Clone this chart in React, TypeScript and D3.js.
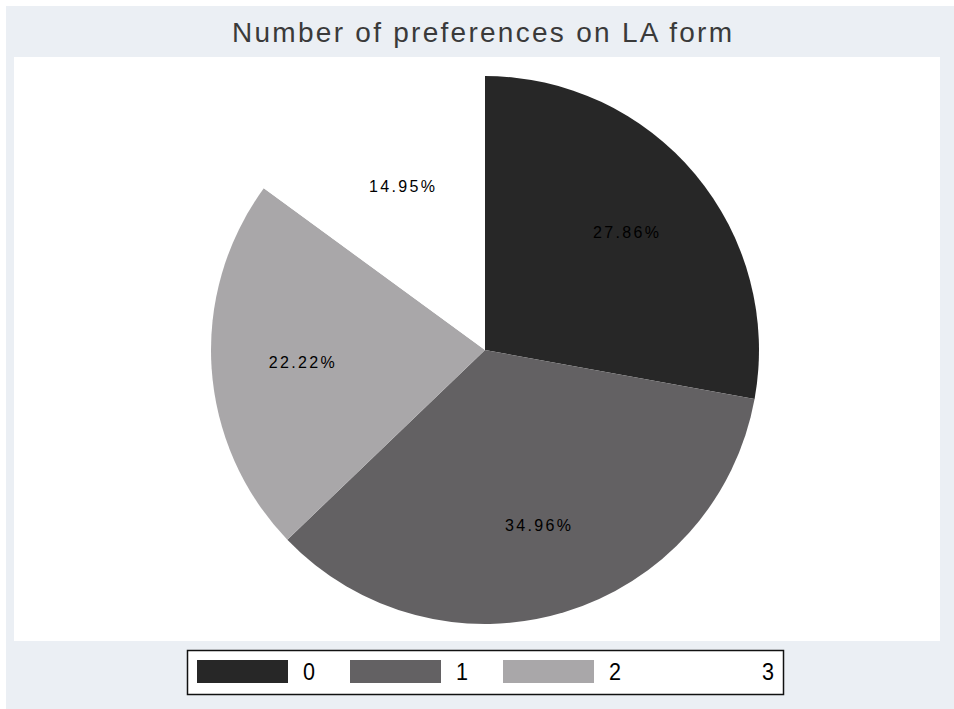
import * as d3 from "d3";

const categories = ["0", "1", "2", "3"];
const shares = [27.86, 34.96, 22.22, 14.95];
const sliceColors = ["#272727", "#636163", "#a9a7a9", "#ffffff"];

const W = 954;
const H = 709;
const FONT = "Liberation Sans, Arial, sans-serif";

export default function App() {
  const cx = 485;
  const cy = 350;
  const r = 274;

  const pie = d3
    .pie<number>()
    .sort(null)
    .value((d) => d);
  const arcs = pie(shares);
  const arc = d3.arc<d3.PieArcDatum<number>>().innerRadius(0).outerRadius(r);
  const labelArc = d3
    .arc<d3.PieArcDatum<number>>()
    .innerRadius(r * 0.67)
    .outerRadius(r * 0.67);

  // legend keys, evenly spaced
  const legendX = d3.scalePoint<string>().domain(categories).range([197, 656]);

  return (
    <svg
      width={W}
      height={H}
      style={{ position: "absolute", left: 0, top: 0, display: "block" }}
    >
      <rect x={0} y={0} width={W} height={H} fill="#ffffff" />
      <rect x={6} y={6} width={W - 6} height={H - 6} fill="#ebeff4" />
      <rect x={14} y={57} width={926} height={584} fill="#ffffff" />
      <text
        x={232}
        y={42}
        textLength={500}
        lengthAdjust="spacing"
        fontFamily={FONT}
        fontSize={28}
        fill="#3a3a3a"
      >
        Number of preferences on LA form
      </text>
      <g transform={`translate(${cx},${cy})`}>
        {arcs.map((a, i) => (
          <path key={i} d={arc(a) || ""} fill={sliceColors[i]} />
        ))}
        {arcs.map((a, i) => {
          const [x, y] = labelArc.centroid(a);
          return (
            <text
              key={"l" + i}
              x={x - 33}
              y={y}
              dy="0.35em"
              textLength={66}
              lengthAdjust="spacing"
              fontFamily={FONT}
              fontSize={16}
              fill="#000"
            >
              {shares[i].toFixed(2)}%
            </text>
          );
        })}
      </g>
      <rect
        x={187.5}
        y={650.5}
        width={596}
        height={44}
        fill="#ffffff"
        stroke="#111"
        strokeWidth={1.5}
      />
      {categories.map((c, i) => {
        const x = legendX(c) as number;
        return (
          <g key={c}>
            <rect x={x} y={660} width={91} height={23} fill={sliceColors[i]} />
            <text
              x={x + 106}
              y={680}
              textLength={12}
              lengthAdjust="spacingAndGlyphs"
              fontFamily={FONT}
              fontSize={23}
              fill="#000"
            >
              {c}
            </text>
          </g>
        );
      })}
    </svg>
  );
}
